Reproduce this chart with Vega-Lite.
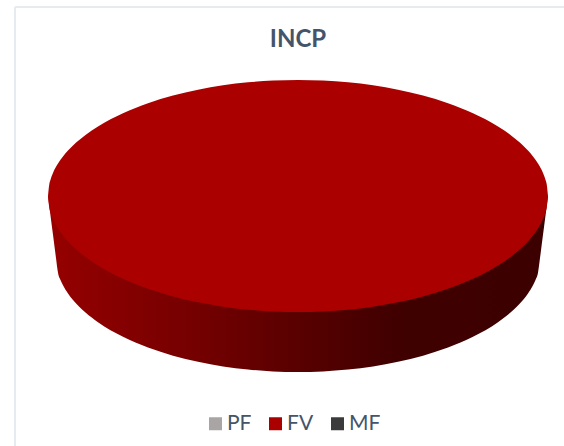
{"$schema":"https://vega.github.io/schema/vega-lite/v6.json","width":564,"height":446,"autosize":"none","padding":0,"background":"white","title":{"text":"INCP","anchor":"middle","frame":"group","dx":16,"offset":-52,"font":"Lato","fontSize":24,"fontWeight":"bold","color":"#44546A"},"config":{"view":{"stroke":null}},"datasets":{"frame":[{"x":-113.2,"x2":-113.2,"y":75.6,"y2":-100},{"x":-113.2,"x2":106.4,"y":75.6,"y2":75.6}],"wall":[{"x":-100,"low":0},{"x":-99,"low":-7.75},{"x":-98,"low":-15.5},{"x":-97,"low":-23.25},{"x":-96.8,"low":-24.8},{"x":-96,"low":-30.65},{"x":-95,"low":-33.55},{"x":-94,"low":-35.69},{"x":-92,"low":-38.98},{"x":-90,"low":-41.59},{"x":-85,"low":-46.62},{"x":-80,"low":-50.47},{"x":-70,"low":-56.3},{"x":-60,"low":-60.58},{"x":-50,"low":-63.85},{"x":-40,"low":-66.32},{"x":-30,"low":-68.15},{"x":-20,"low":-69.42},{"x":-10,"low":-70.16},{"x":0,"low":-70.4},{"x":10,"low":-70.16},{"x":20,"low":-69.42},{"x":30,"low":-68.15},{"x":40,"low":-66.32},{"x":50,"low":-63.85},{"x":60,"low":-60.58},{"x":70,"low":-56.3},{"x":80,"low":-50.47},{"x":85,"low":-46.62},{"x":90,"low":-41.59},{"x":92,"low":-38.98},{"x":94,"low":-35.69},{"x":95,"low":-33.55},{"x":96,"low":-30.65},{"x":96.8,"low":-24.8},{"x":97,"low":-23.25},{"x":98,"low":-15.5},{"x":99,"low":-7.75},{"x":100,"low":0}],"top":[{"series":"FV","x":-100,"up":0,"low":0},{"series":"FV","x":-99.5,"up":4.63,"low":-4.63},{"series":"FV","x":-99,"up":6.55,"low":-6.55},{"series":"FV","x":-98,"up":9.23,"low":-9.23},{"series":"FV","x":-96,"up":12.99,"low":-12.99},{"series":"FV","x":-94,"up":15.83,"low":-15.83},{"series":"FV","x":-92,"up":18.19,"low":-18.19},{"series":"FV","x":-90,"up":20.23,"low":-20.23},{"series":"FV","x":-85,"up":24.44,"low":-24.44},{"series":"FV","x":-80,"up":27.84,"low":-27.84},{"series":"FV","x":-75,"up":30.69,"low":-30.69},{"series":"FV","x":-70,"up":33.14,"low":-33.14},{"series":"FV","x":-60,"up":37.12,"low":-37.12},{"series":"FV","x":-50,"up":40.18,"low":-40.18},{"series":"FV","x":-40,"up":42.53,"low":-42.53},{"series":"FV","x":-30,"up":44.26,"low":-44.26},{"series":"FV","x":-20,"up":45.46,"low":-45.46},{"series":"FV","x":-10,"up":46.17,"low":-46.17},{"series":"FV","x":0,"up":46.4,"low":-46.4},{"series":"FV","x":10,"up":46.17,"low":-46.17},{"series":"FV","x":20,"up":45.46,"low":-45.46},{"series":"FV","x":30,"up":44.26,"low":-44.26},{"series":"FV","x":40,"up":42.53,"low":-42.53},{"series":"FV","x":50,"up":40.18,"low":-40.18},{"series":"FV","x":60,"up":37.12,"low":-37.12},{"series":"FV","x":70,"up":33.14,"low":-33.14},{"series":"FV","x":75,"up":30.69,"low":-30.69},{"series":"FV","x":80,"up":27.84,"low":-27.84},{"series":"FV","x":85,"up":24.44,"low":-24.44},{"series":"FV","x":90,"up":20.23,"low":-20.23},{"series":"FV","x":92,"up":18.19,"low":-18.19},{"series":"FV","x":94,"up":15.83,"low":-15.83},{"series":"FV","x":96,"up":12.99,"low":-12.99},{"series":"FV","x":98,"up":9.23,"low":-9.23},{"series":"FV","x":99,"up":6.55,"low":-6.55},{"series":"FV","x":99.5,"up":4.63,"low":-4.63},{"series":"FV","x":100,"up":0,"low":0}]},"layer":[{"data":{"name":"frame"},"mark":{"type":"rule","color":"#E6EBEF","strokeWidth":2},"encoding":{"x":{"field":"x","type":"quantitative","scale":{"domain":[-119.2,106.4],"nice":false,"zero":false},"axis":null},"x2":{"field":"x2"},"y":{"field":"y","type":"quantitative","scale":{"domain":[-100,78.4],"nice":false,"zero":false},"axis":null},"y2":{"field":"y2"}}},{"data":{"name":"wall"},"mark":{"type":"area","interpolate":"monotone","color":{"gradient":"linear","x1":0,"y1":0,"x2":1,"y2":0,"stops":[{"offset":0,"color":"#960000"},{"offset":0.3,"color":"#740000"},{"offset":0.5,"color":"#590000"},{"offset":0.7,"color":"#400000"},{"offset":1,"color":"#3C0000"}]}},"encoding":{"x":{"field":"x","type":"quantitative"},"y":{"field":"low","type":"quantitative","stack":null},"y2":{"datum":0}}},{"data":{"name":"top"},"mark":{"type":"area","interpolate":"monotone"},"encoding":{"x":{"field":"x","type":"quantitative"},"y":{"field":"up","type":"quantitative","stack":null},"y2":{"field":"low"},"color":{"field":"series","type":"nominal","scale":{"domain":["PF","FV","MF"],"range":["#A9A5A5","#AA0000","#3B3B3B"]},"legend":{"title":null,"orient":"none","legendX":205,"legendY":413,"direction":"horizontal","symbolType":"square","symbolSize":169,"symbolStrokeWidth":0,"labelFont":"Lato","labelFontSize":21,"labelColor":"#44546A","columnPadding":13,"labelOffset":1}}}}]}
